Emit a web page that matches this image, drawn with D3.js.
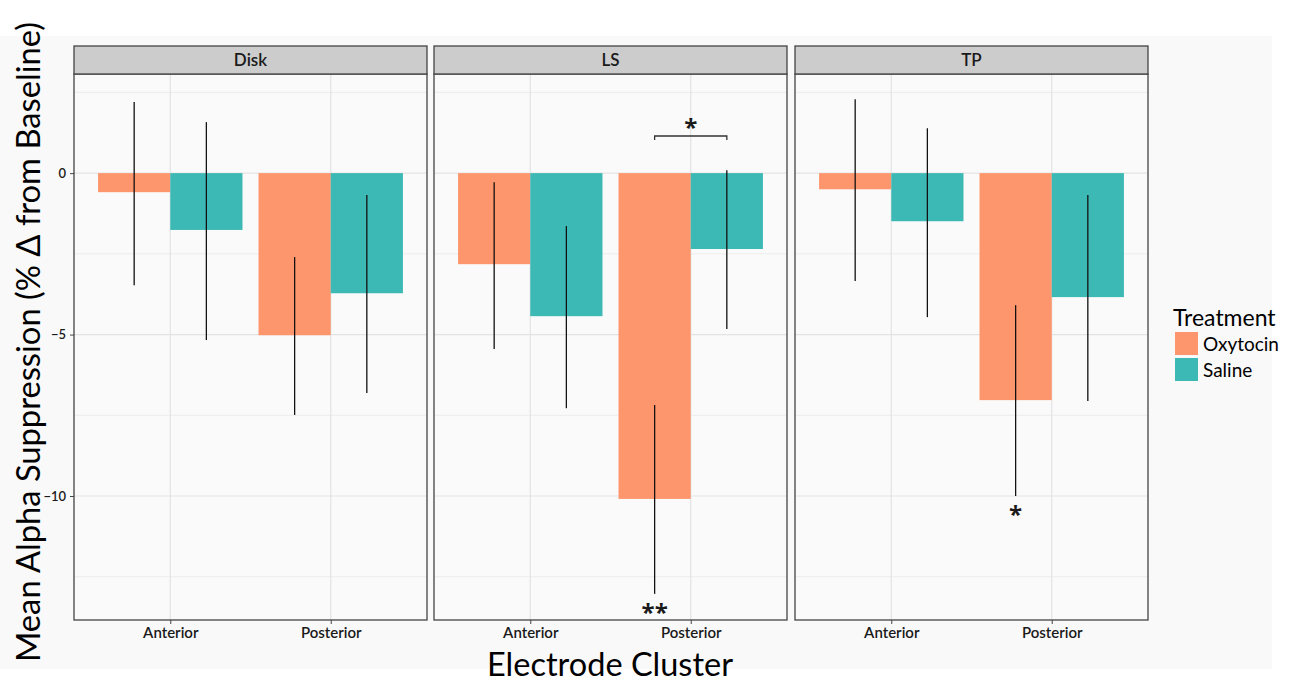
<!DOCTYPE html>
<html>
<head>
<meta charset="utf-8">
<script src="https://cdn.jsdelivr.net/npm/d3@7"></script>
<style>
  body { margin: 0; background: #fff; }
  svg { display: block; font-family: Lato, "Open Sans", sans-serif; }
</style>
</head>
<body>
<svg id="chart"></svg>
<script>
// data
let panels = ['Disk', 'LS', 'TP']
let clusters = ['Anterior', 'Posterior']
let treatments = ['Oxytocin', 'Saline']
let colors = ['#fd956d', '#3db9b5']

// mean per panel, cluster order: [Oxytocin, Saline]
let means = {
    Disk: [[-0.59, -1.76], [-5.02, -3.72]],
    LS:   [[-2.82, -4.43], [-10.09, -2.35]],
    TP:   [[-0.50, -1.49], [-7.03, -3.84]]
}
let errLow = {
    Disk: [[-3.47, -5.17], [-7.49, -6.81]],
    LS:   [[-5.45, -7.28], [-13.03, -4.83]],
    TP:   [[-3.34, -4.46], [-10.0, -7.06]]
}
let errHigh = {
    Disk: [[2.20, 1.58], [-2.60, -0.68]],
    LS:   [[-0.28, -1.64], [-7.18, 0.09]],
    TP:   [[2.29, 1.39], [-4.09, -0.68]]
}
let yTicks = [0, -5, -10]
let yMinor = [2.5, -2.5, -7.5, -12.5]

let width = 1298
let height = 684
let panelLeft = [74, 434, 795]
let panelWidth = 353
let stripTop = 46
let plotTop = 74
let plotBottom = 620

let svg = d3.select('#chart').attr('width', width).attr('height', height)

// light figure background
svg.append('rect')
    .attr('x', 0).attr('y', 36)
    .attr('width', 1272).attr('height', 633)
    .attr('fill', '#f9f9f9')

let yScale = d3.scaleLinear()
    .domain([-13.84, 3.07])
    .range([plotBottom, plotTop])

panels.forEach((p, pi) => {
    let left = panelLeft[pi]
    let g = svg.append('g').attr('transform', 'translate(' + left + ',0)')

    // discrete axis with ggplot's 0.6 expansion
    let xScale = d3.scalePoint()
        .domain(clusters)
        .range([0.6 * panelWidth / 2.2, 1.6 * panelWidth / 2.2])
    let barW = 0.45 * panelWidth / 2.2

    g.append('rect')
        .attr('x', 0).attr('y', plotTop)
        .attr('width', panelWidth).attr('height', plotBottom - plotTop)
        .attr('fill', '#fafafa')

    // grid
    g.selectAll('.minor').data(yMinor).enter().append('line')
        .attr('x1', 0).attr('x2', panelWidth)
        .attr('y1', d => yScale(d)).attr('y2', d => yScale(d))
        .attr('stroke', '#ececec').attr('stroke-width', 1)
    g.selectAll('.major').data(yTicks).enter().append('line')
        .attr('x1', 0).attr('x2', panelWidth)
        .attr('y1', d => yScale(d)).attr('y2', d => yScale(d))
        .attr('stroke', '#e3e3e3').attr('stroke-width', 1.2)
    g.selectAll('.vgrid').data(clusters).enter().append('line')
        .attr('x1', d => xScale(d)).attr('x2', d => xScale(d))
        .attr('y1', plotTop).attr('y2', plotBottom)
        .attr('stroke', '#e3e3e3').attr('stroke-width', 1.2)

    // bars
    clusters.forEach((c, ci) => {
        treatments.forEach((t, ti) => {
            let x0 = xScale(c) - barW + ti * barW
            let v = means[p][ci][ti]
            g.append('rect')
                .attr('x', x0)
                .attr('y', yScale(Math.max(0, v)))
                .attr('width', barW)
                .attr('height', Math.abs(yScale(v) - yScale(0)))
                .attr('fill', colors[ti])
        })
    })
    // error bars (no caps)
    clusters.forEach((c, ci) => {
        treatments.forEach((t, ti) => {
            let cx = xScale(c) - barW / 2 + ti * barW
            g.append('line')
                .attr('x1', cx).attr('x2', cx)
                .attr('y1', yScale(errHigh[p][ci][ti]))
                .attr('y2', yScale(errLow[p][ci][ti]))
                .attr('stroke', '#111').attr('stroke-width', 1.3)
        })
    })

    // border and strip
    g.append('rect')
        .attr('x', 0).attr('y', plotTop)
        .attr('width', panelWidth).attr('height', plotBottom - plotTop)
        .attr('fill', 'none').attr('stroke', '#444').attr('stroke-width', 1.3)
    g.append('rect')
        .attr('x', 0).attr('y', stripTop)
        .attr('width', panelWidth).attr('height', plotTop - stripTop)
        .attr('fill', '#cccccc').attr('stroke', '#444').attr('stroke-width', 1.3)
    g.append('text')
        .attr('x', panelWidth / 2).attr('y', stripTop + 20)
        .attr('text-anchor', 'middle')
        .attr('font-size', 17).attr('font-weight', 600).attr('fill', '#1a1a1a')
        .text(p)

    // x axis
    let xAxis = d3.axisBottom(xScale).tickSize(4).tickPadding(3)
    let ax = g.append('g')
        .attr('transform', 'translate(0,' + plotBottom + ')')
        .call(xAxis)
    ax.select('.domain').remove()
    ax.selectAll('line').attr('stroke', '#444')
    ax.selectAll('text').attr('font-size', 15).attr('font-weight', 600).attr('fill', '#1a1a1a')
        .style('font-family', 'Lato, sans-serif')

    // y axis on first panel only
    if (pi === 0) {
        let yAxis = d3.axisLeft(yScale).tickValues(yTicks).tickSize(4).tickPadding(4)
            .tickFormat(d => d < 0 ? '\u2212' + Math.abs(d) : d)
        let ay = g.append('g').call(yAxis)
        ay.select('.domain').remove()
        ay.selectAll('line').attr('stroke', '#444')
        ay.selectAll('text').attr('font-size', 13).attr('font-weight', 600).attr('fill', '#1a1a1a')
            .style('font-family', 'Lato, sans-serif')
    }
})

// significance annotations
let lsX = d3.scalePoint().domain(clusters)
    .range([panelLeft[1] + 0.6 * panelWidth / 2.2, panelLeft[1] + 1.6 * panelWidth / 2.2])
let tpX = d3.scalePoint().domain(clusters)
    .range([panelLeft[2] + 0.6 * panelWidth / 2.2, panelLeft[2] + 1.6 * panelWidth / 2.2])
let half = 0.225 * panelWidth / 2.2

let bx1 = lsX('Posterior') - half
let bx2 = lsX('Posterior') + half
let by = yScale(1.15)
svg.append('path')
    .attr('d', 'M' + bx1 + ',' + (by + 4) + 'V' + by + 'H' + bx2 + 'V' + (by + 4))
    .attr('fill', 'none').attr('stroke', '#333').attr('stroke-width', 1.3)

let starText = (x, y, s) => {
    svg.append('text')
        .attr('x', x).attr('y', y)
        .attr('text-anchor', 'middle')
        .attr('font-size', 24).attr('font-weight', 'bold')
        .style('font-family', '"Open Sans", sans-serif')
        .attr('fill', '#1a1a1a')
        .text(s)
}
starText((bx1 + bx2) / 2, by, '*')
starText(bx1, yScale(-13.03) + 27, '**')
starText(tpX('Posterior') - half, yScale(-10.0) + 27, '*')

// axis titles
svg.append('text')
    .attr('transform', 'translate(40,342) rotate(-90)')
    .attr('text-anchor', 'middle')
    .attr('font-size', 33)
    .attr('textLength', 640)
    .attr('lengthAdjust', 'spacingAndGlyphs')
    .text('Mean Alpha Suppression (% \u0394 from Baseline)')
svg.append('text')
    .attr('x', 610).attr('y', 676)
    .attr('text-anchor', 'middle')
    .attr('font-size', 33)
    .attr('textLength', 246)
    .attr('lengthAdjust', 'spacingAndGlyphs')
    .text('Electrode Cluster')

// legend
let legend = svg.append('g').attr('transform', 'translate(1173,0)')
legend.append('text')
    .attr('x', 0).attr('y', 326)
    .attr('font-size', 23)
    .text('Treatment')
treatments.forEach((t, i) => {
    legend.append('rect')
        .attr('x', 2).attr('y', 332 + i * 26)
        .attr('width', 23).attr('height', 23)
        .attr('fill', colors[i])
    legend.append('text')
        .attr('x', 30).attr('y', 351 + i * 26)
        .attr('font-size', 19)
        .text(t)
})
</script>
</body>
</html>
